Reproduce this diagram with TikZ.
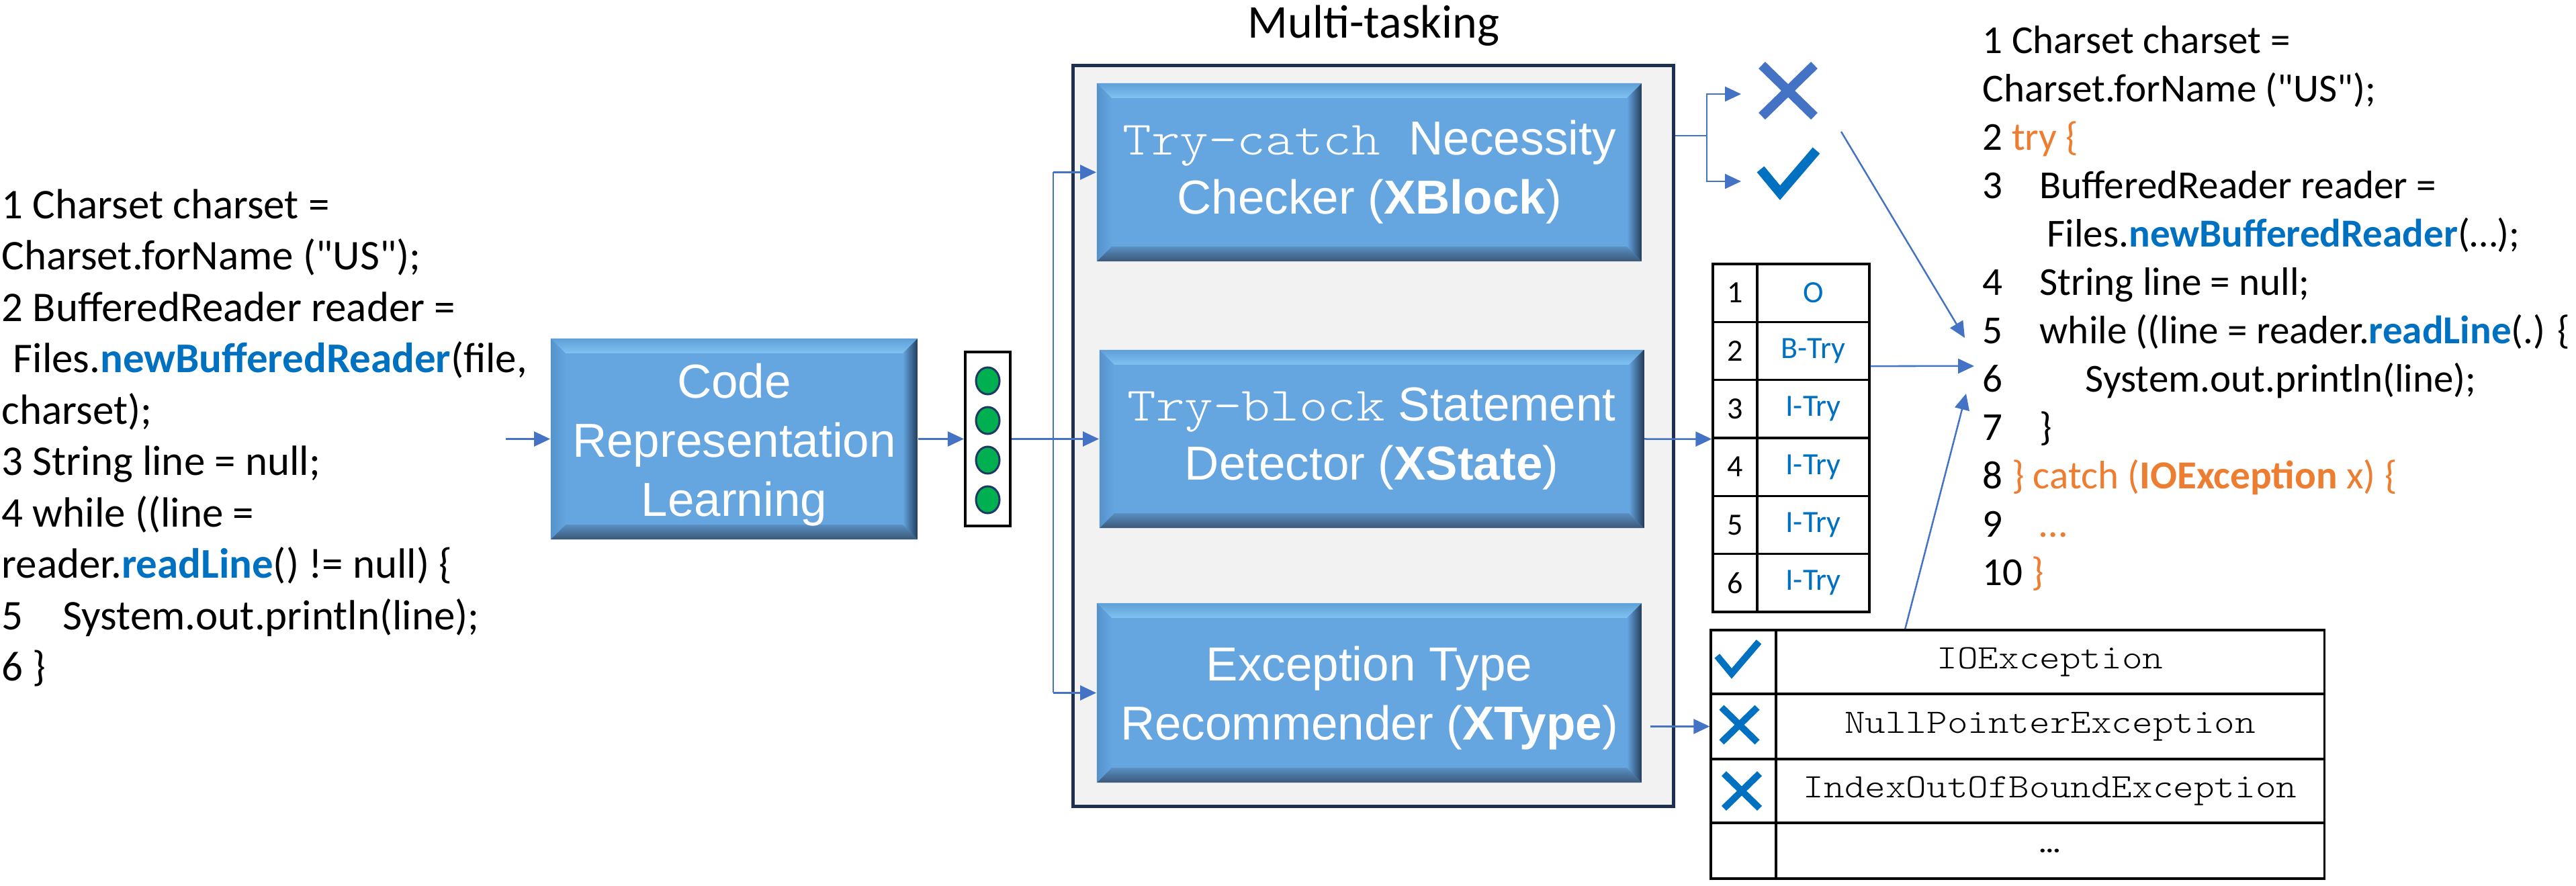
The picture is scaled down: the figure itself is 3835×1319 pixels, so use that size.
\documentclass[tikz,border=0pt]{standalone}
\usepackage{fontspec}
\setmainfont{Carlito}
\newfontfamily\arialfont{Liberation Sans}
\newfontfamily\courfont{lmmonolt10-regular.otf}[FakeStretch=1.143]
\usepackage{xcolor}
\usepackage{tikz}
\usetikzlibrary{calc}
\usetikzlibrary{arrows.meta}
\usetikzlibrary{shapes.geometric}

\definecolor{arrblue}{HTML}{4472C4}
\definecolor{cblue}{HTML}{0070C0}
\definecolor{codeorange}{HTML}{ED7D31}
\definecolor{boxblue}{HTML}{65A5E0}
\definecolor{bevedge}{HTML}{5E9FD8}
\definecolor{bevhi}{HTML}{9DDCFB}
\definecolor{bevlite}{HTML}{80C2F0}
\definecolor{bevmid}{HTML}{5A8FC2}
\definecolor{bevdark}{HTML}{3B5878}
\definecolor{bevside}{HTML}{243C5A}
\definecolor{bevleft}{HTML}{5592CB}
\definecolor{framenavy}{HTML}{1F2F4F}
\definecolor{panelgray}{HTML}{F2F2F2}
\definecolor{dotgreen}{HTML}{00B050}
\definecolor{dotrim}{HTML}{1F3864}

\newcommand{\kw}[1]{{\bfseries\color{cblue}#1}}
\newcommand{\kwo}[1]{{\color{codeorange}#1}}
\newcommand{\dq}{\textquotedbl}

\tikzstyle{arr}=[draw=arrblue, line width=0.25mm, -{Triangle[length=2.4mm,width=2.2mm]}]
\tikzstyle{conn}=[draw=arrblue, line width=0.25mm]
\tikzstyle{codeL}=[anchor=base west, inner sep=0pt, font=\fontsize{17.9}{21.8}\selectfont]
\tikzstyle{codeR}=[anchor=base west, inner sep=0pt, font=\fontsize{16.8}{20.5}\selectfont]
\tikzstyle{tcell}=[draw=black, line width=0.33mm, inner sep=0pt, font=\fontsize{13.1}{15}\selectfont]
\tikzstyle{excell}=[draw=black, line width=0.33mm, inner sep=0pt, font=\courfont\fontsize{14.5}{17}\selectfont]
\tikzstyle{vecdot}=[ellipse, fill=dotgreen, draw=dotrim, line width=0.3mm, minimum width=0.35cm, minimum height=0.40cm, inner sep=0pt]
\tikzstyle{bevelbox}=[fill=boxblue, text=white, align=center, inner sep=0pt,
  font={\arialfont\fontsize{20.2}{25}\selectfont},
  path picture={
    \coordinate (bnw) at (path picture bounding box.north west);
    \coordinate (bse) at (path picture bounding box.south east);
    \coordinate (bne) at (bnw -| bse);
    \coordinate (bsw) at (bse -| bnw);
    \shade[top color=bevedge, middle color=bevhi, bottom color=bevlite] (bnw) -- (bne) -- ($(bne)+(-2.2mm,-2.2mm)$) -- ($(bnw)+(2.2mm,-2.2mm)$) -- cycle;
    \shade[top color=bevmid, bottom color=bevdark] ($(bsw)+(2.2mm,2.2mm)$) -- ($(bse)+(-2.2mm,2.2mm)$) -- (bse) -- (bsw) -- cycle;
    \shade[left color=boxblue, right color=bevside] ($(bne)+(-2.2mm,-2.2mm)$) -- (bne) -- (bse) -- ($(bse)+(-2.2mm,2.2mm)$) -- cycle;
    \shade[left color=bevleft, right color=boxblue] (bnw) -- ($(bnw)+(2.2mm,-2.2mm)$) -- ($(bsw)+(2.2mm,2.2mm)$) -- (bsw) -- cycle;
  }]

\tikzset{
  crossmk/.pic={\path[pic actions] (-39,-38) -- (39,38) (39,-38) -- (-39,38); \coordinate (-w) at (-70,5);},
  tickmk/.pic={\path[pic actions] (-41,-6) -- (-12,29) -- (42,-34); \coordinate (-w) at (-70,12);}
}

\begin{document}
\begin{tikzpicture}[x=0.01cm,y=-0.01cm]
\useasboundingbox (0,0) rectangle (3835,1319);

\foreach \t [count=\i] in {
  {1 Charset charset =},
  {Charset.forName (\dq US\dq);},
  {2 BufferedReader reader =},
  {\hspace{0.17cm}Files.\kw{newBufferedReader}(file,},
  {charset);},
  {3 String line = null;},
  {4 while ((line =},
  {reader.\kw{readLine}() != null) \{},
  {\makebox[0.91cm][l]{5}System.out.println(line);},
  {6 \}}}
  \node[codeL] (lc\i) at (2,{325.5+76.5*(\i-1)}) {\t};

\node[bevelbox, minimum width=5.46cm, minimum height=2.99cm] (crl) at (1093,653.5) {\rule{0pt}{6.8mm}Code\\Representation\\Learning};

\node[draw=black, line width=0.4mm, minimum width=0.67cm, minimum height=2.58cm, inner sep=0pt] (vec) at (1470.5,653.5) {};
\foreach \y [count=\i] in {567,626,685,744}
  \node[vecdot] (dot\i) at (1470.5,\y) {};

\node[draw=framenavy, fill=panelgray, line width=0.5mm, minimum width=8.93cm, minimum height=11.02cm, inner sep=0pt] (outer) at (2044.5,649) {};
\node[anchor=base, inner sep=0pt, font=\fontsize{19.9}{24}\selectfont] (mtitle) at (2045,57) {Multi-tasking};

\node[bevelbox, minimum width=8.11cm, minimum height=2.65cm] (b1) at (2038.5,256.5) {{\courfont Try-catch }Necessity\\Checker (\textbf{XBlock})};
\node[bevelbox, minimum width=8.10cm, minimum height=2.65cm] (b2) at (2042,653.5) {{\courfont Try-block} Statement\\Detector (\textbf{XState})};
\node[bevelbox, minimum width=8.11cm, minimum height=2.67cm] (b3) at (2038.5,1031.5) {\rule{0pt}{6.6mm}Exception Type\\Recommender (\textbf{XType})};

\foreach \lab [count=\i] in {O,B-Try,I-Try,I-Try,I-Try,I-Try} {
  \node[tcell, minimum width=0.66cm, minimum height=0.863cm] (tn\i) at (2583,{393+86.33*(\i-0.5)}) {\i};
  \node[tcell, text=cblue, minimum width=1.67cm, minimum height=0.863cm] (tl\i) at (2699.5,{393+86.33*(\i-0.5)}) {\lab};
}

\foreach \y/\h/\ex [count=\i] in {985.5/0.95/IOException, 1081.5/0.97/NullPointerException, 1177.5/0.95/IndexOutOfBoundException, 1266.5/0.83/…} {
  \node[excell, minimum width=0.97cm, minimum height=\h cm] (mk\i) at (2595.5,\y) {};
  \node[excell, minimum width=8.16cm, minimum height=\h cm] (ex\i) at (3052,\y) {\ex};
}

\pic[draw=arrblue, line width=1.4mm] (nomark) at (2662,135) {crossmk};
\pic[draw=cblue, line width=1.4mm] (yesmark) at (2662,258) {tickmk};
\pic[draw=cblue, line width=1mm, scale=0.75] (t2yes) at (2587,981) {tickmk};
\pic[draw=cblue, line width=1mm, scale=0.68] (t2no1) at (2589.5,1079) {crossmk};
\pic[draw=cblue, line width=1mm, scale=0.68] (t2no2) at (2593,1177.5) {crossmk};

\foreach \t [count=\i] in {
  {1 Charset charset =},
  {Charset.forName (\dq US\dq);},
  {2 \kwo{try \{}},
  {\makebox[0.85cm][l]{3}BufferedReader reader =},
  {\hspace{0.96cm}Files.\kw{newBufferedReader}(…);},
  {\makebox[0.85cm][l]{4}String line = null;},
  {\makebox[0.85cm][l]{5}while ((line = reader.\kw{readLine}(.) \{},
  {\makebox[1.53cm][l]{6}System.out.println(line);},
  {\makebox[0.85cm][l]{7}\}},
  {8 \kwo{\} catch (\textbf{IOException} x) \{}},
  {\makebox[0.85cm][l]{9}\kwo{…}},
  {10 \kwo{\}}}}
  \node[codeR] (rc\i) at (2951,{80+72*(\i-1)}) {\t};

\coordinate (codein) at (753,653.5);
\draw[arr] (codein) -- (crl.west);
\draw[arr] (crl.east) -- (vec.west);
\coordinate (trunk) at (1568,653.5);
\draw[conn] (vec.east) -- (trunk);
\draw[conn] (trunk |- b1.west) -- (trunk |- b3.west);
\draw[arr] (trunk |- b1.west) -- (b1.west);
\draw[arr] (trunk) -- (b2.west);
\draw[arr] (trunk |- b3.west) -- (b3.west);

\coordinate (split) at (2541,202);
\draw[conn] (outer.east |- split) -- (split);
\draw[arr] (split) |- (nomark-w);
\draw[arr] (split) |- (yesmark-w);

\draw[arr] (b2.east) -- (tn3.south west);
\draw[arr] ([xshift=1.2mm]b3.east |- mk2.west) -- (mk2.west);

\coordinate (fromcheck) at (2741,196);
\coordinate (hit1) at (2925,503);
\coordinate (hit2) at (2939,545);
\coordinate (hit3) at (2927,586);
\draw[arr] (fromcheck) -- (hit1);
\draw[arr] ([yshift=-2.25mm]tl2.east) -- (hit2);
\draw[arr] ([xshift=1.94cm]ex1.north west) -- (hit3);
\end{tikzpicture}
\end{document}
